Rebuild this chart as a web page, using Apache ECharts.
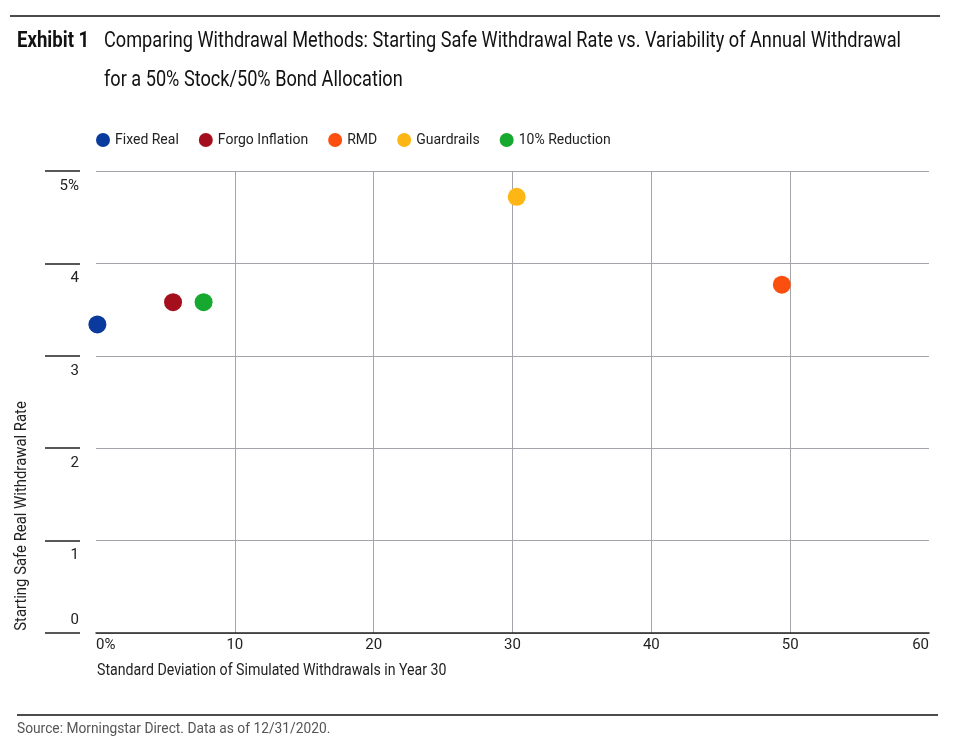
<!DOCTYPE html>
<html>
<head>
<meta charset="utf-8">
<script src="https://cdn.jsdelivr.net/npm/echarts@6/dist/echarts.min.js"></script>
<style>
  html, body { margin: 0; padding: 0; background: #fff; }
  #main { width: 953px; height: 748px; }
</style>
</head>
<body>
<div id="main"></div>
<script>
const methods = ['Fixed Real', 'Forgo Inflation', 'RMD', 'Guardrails', '10% Reduction'];
const stdDev = [0.1, 5.55, 49.4, 30.3, 7.75];     // x: std dev of withdrawals in year 30 (%)
const safeRate = [3.34, 3.58, 3.77, 4.72, 3.58];  // y: starting safe real withdrawal rate (%)
const colors = ['#0b3a9e', '#a50f1d', '#fb4f0f', '#fdb614', '#17a92f'];

const FONT = 'Roboto, "Noto Sans", sans-serif';
const chart = echarts.init(document.getElementById('main'));

const series = methods.map(function (name, i) {
  return {
    name: name,
    type: 'scatter',
    symbolSize: 18,
    z: 3,
    itemStyle: { color: colors[i], opacity: 1 },
    data: [[stdDev[i], safeRate[i]]]
  };
});

const option = {
  backgroundColor: '#ffffff',
  animation: false,
  color: colors,
  textStyle: { fontFamily: FONT },
  legend: {
    left: 91,
    top: 128,
    icon: 'circle',
    itemWidth: 14,
    itemHeight: 14,
    itemGap: 20,
    selectedMode: false,
    textStyle: { fontFamily: FONT, fontSize: 14, color: '#222' },
    data: methods
  },
  grid: { left: 96, right: 24, top: 171, bottom: 115, containLabel: false },
  xAxis: {
    type: 'value',
    min: 0,
    max: 60,
    interval: 10,
    axisLine: { show: true, lineStyle: { color: '#222', width: 1.5 } },
    axisTick: { show: false },
    splitLine: { show: true, showMinLine: false, showMaxLine: false, lineStyle: { color: '#a3a5ab', width: 1 } },
    axisLabel: {
      margin: 5,
      fontFamily: FONT,
      fontSize: 15,
      color: '#222',
      alignMinLabel: 'left',
      alignMaxLabel: 'right',
      formatter: function (v) { return v === 0 ? '0%' : String(v); }
    }
  },
  yAxis: [{
    type: 'value',
    min: 0,
    max: 5,
    interval: 1,
    axisLine: { show: false },
    axisTick: { show: false },
    axisLabel: { show: false },
    splitLine: { show: true, lineStyle: { color: '#a3a5ab', width: 1 } }
  }, {
    type: 'value',
    position: 'left',
    min: 0,
    max: 5,
    interval: 1,
    offset: 16,
    axisLine: { show: true, lineStyle: { color: 'rgba(0,0,0,0)' } },
    axisTick: { show: true, inside: false, length: 35, lineStyle: { color: '#222', width: 1.5 } },
    splitLine: { show: false },
    axisLabel: {
      margin: 1,
      fontFamily: FONT,
      fontSize: 15,
      color: '#222',
      formatter: function (v) {
        if (v === 0) return '{lo|0}';
        return '{hi|' + (v === 5 ? '5%' : v) + '}';
      },
      rich: {
        hi: { fontFamily: FONT, fontSize: 15, color: '#222', lineHeight: 18, padding: [30, 0, 0, 0] },
        lo: { fontFamily: FONT, fontSize: 15, color: '#222', lineHeight: 18, padding: [0, 0, 26, 0] }
      }
    }
  }],
  graphic: [
    { type: 'line', shape: { x1: 10, y1: 16, x2: 940, y2: 16 }, style: { stroke: '#111', lineWidth: 1.5 } },
    { type: 'text', x: 17, y: 41, scaleX: 0.846,
      style: { text: 'Exhibit 1', fontFamily: FONT, fontSize: 22, fontWeight: 'bold', fill: '#111', verticalAlign: 'middle' } },
    { type: 'text', x: 104, y: 41, scaleX: 0.825,
      style: { text: 'Comparing Withdrawal Methods: Starting Safe Withdrawal Rate vs. Variability of Annual Withdrawal', fontFamily: FONT, fontSize: 22, fill: '#111', verticalAlign: 'middle' } },
    { type: 'text', x: 104, y: 80, scaleX: 0.825,
      style: { text: 'for a 50% Stock/50% Bond Allocation', fontFamily: FONT, fontSize: 22, fill: '#111', verticalAlign: 'middle' } },
    { type: 'text', x: 22, y: 516, rotation: Math.PI / 2, scaleX: 0.93,
      style: { text: 'Starting Safe Real Withdrawal Rate', fontFamily: FONT, fontSize: 16, fill: '#222', align: 'center', verticalAlign: 'middle' } },
    { type: 'text', x: 97, y: 671, scaleX: 0.885,
      style: { text: 'Standard Deviation of Simulated Withdrawals in Year 30', fontFamily: FONT, fontSize: 16, fill: '#222', verticalAlign: 'middle' } },
    { type: 'line', shape: { x1: 17, y1: 715, x2: 938, y2: 715 }, style: { stroke: '#111', lineWidth: 1.5 } },
    { type: 'text', x: 17, y: 729, scaleX: 0.918,
      style: { text: 'Source: Morningstar Direct. Data as of 12/31/2020.', fontFamily: FONT, fontSize: 15, fill: '#555', verticalAlign: 'middle' } }
  ],
  series: series
};

chart.setOption(option);
</script>
</body>
</html>
